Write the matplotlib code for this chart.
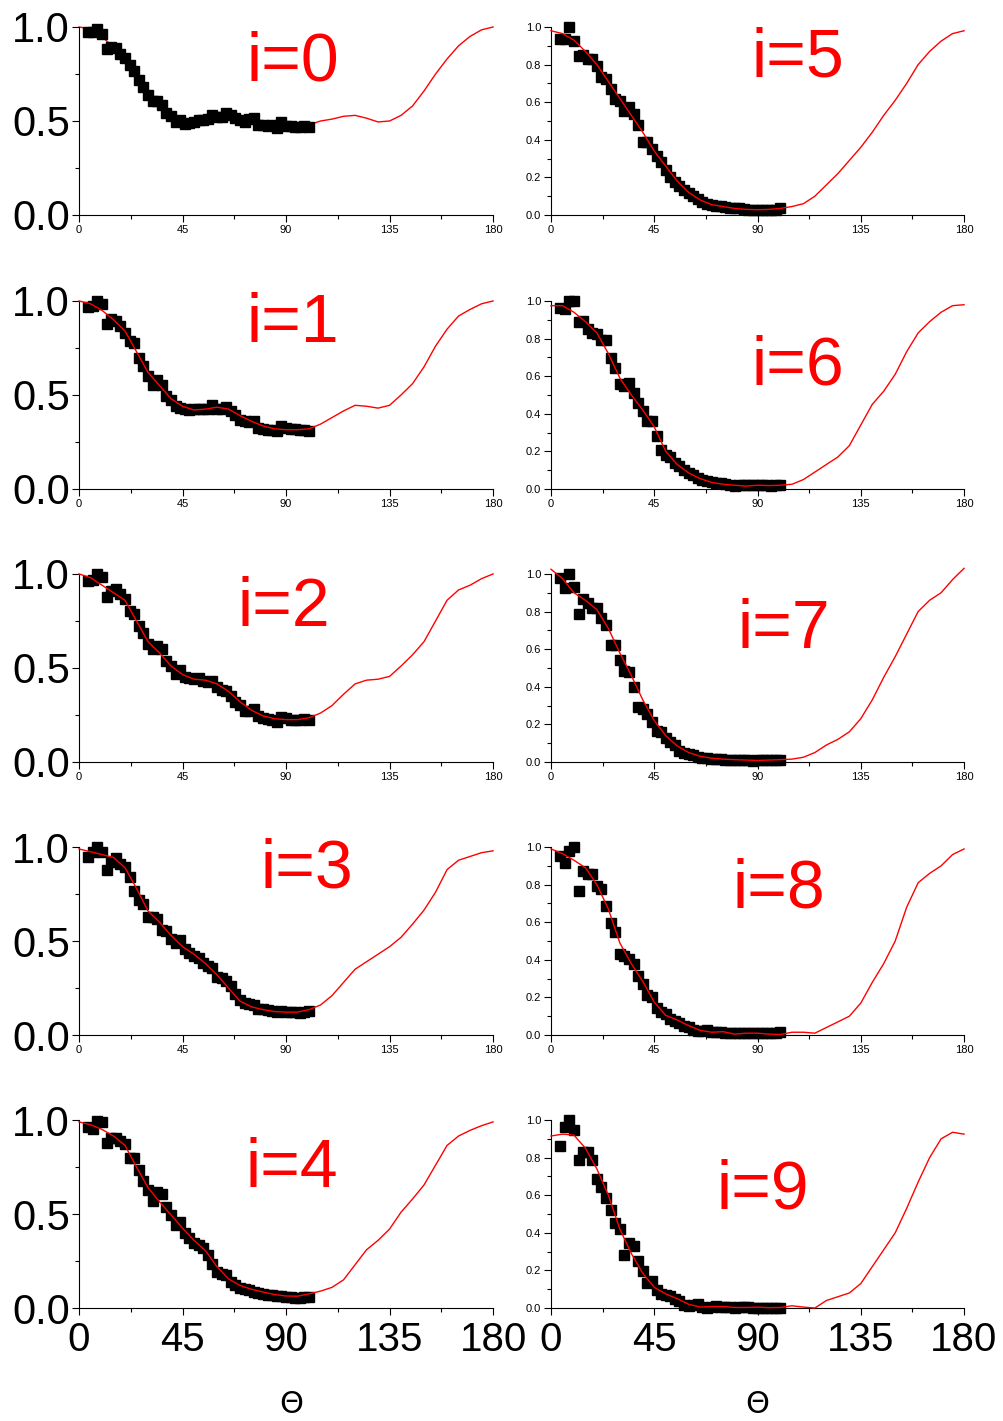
import matplotlib
matplotlib.use("Agg")
import matplotlib.pyplot as plt
from matplotlib.ticker import MultipleLocator, FormatStrFormatter

plt.rcParams['font.family'] = ['Liberation Sans', 'DejaVu Sans']

# measured angles (deg) and fitted-curve angles (deg)
theta_pts = [4, 6, 8, 10, 12, 14, 16, 18, 20, 22, 24, 26, 28, 30, 32, 34, 36,
             38, 40, 42, 44, 46, 48, 50, 52, 54, 56, 58, 60, 62, 64, 66, 68,
             70, 72, 74, 76, 78, 80, 82, 84, 86, 88, 90, 92, 94, 96, 98, 100]
theta_fit = [0, 5, 10, 15, 20, 25, 30, 35, 40, 45, 50, 55, 60, 65, 70, 75, 80,
             85, 90, 95, 100, 105, 110, 115, 120, 125, 130, 135, 140, 145, 150,
             155, 160, 165, 170, 175, 180]

# measured points, one list per i
exp_0 = [0.974, 0.974, 0.991, 0.965, 0.882, 0.894, 0.886, 0.859, 0.833, 0.798,
         0.768, 0.718, 0.680, 0.639, 0.604, 0.609, 0.586, 0.542, 0.525, 0.493,
         0.504, 0.486, 0.489, 0.493, 0.504, 0.504, 0.511, 0.533, 0.521, 0.521,
         0.542, 0.533, 0.516, 0.504, 0.493, 0.511, 0.516, 0.481, 0.481, 0.475,
         0.481, 0.463, 0.493, 0.475, 0.475, 0.468, 0.468, 0.475, 0.468]
exp_1 = [0.970, 0.973, 1.000, 0.982, 0.879, 0.902, 0.893, 0.867, 0.831, 0.786,
         0.778, 0.698, 0.653, 0.603, 0.555, 0.582, 0.555, 0.493, 0.475, 0.440,
         0.431, 0.425, 0.422, 0.425, 0.427, 0.425, 0.425, 0.448, 0.425, 0.425,
         0.436, 0.413, 0.395, 0.368, 0.359, 0.354, 0.359, 0.324, 0.319, 0.315,
         0.315, 0.306, 0.333, 0.324, 0.319, 0.319, 0.315, 0.315, 0.306]
exp_2 = [0.964, 0.968, 1.000, 0.982, 0.875, 0.911, 0.920, 0.893, 0.866, 0.804,
         0.786, 0.724, 0.688, 0.626, 0.599, 0.617, 0.599, 0.537, 0.510, 0.469,
         0.487, 0.451, 0.444, 0.439, 0.447, 0.433, 0.426, 0.430, 0.397, 0.385,
         0.380, 0.349, 0.319, 0.305, 0.269, 0.273, 0.283, 0.242, 0.234, 0.230,
         0.225, 0.212, 0.237, 0.234, 0.225, 0.223, 0.225, 0.228, 0.225]
exp_3 = [0.947, 0.973, 1.000, 0.973, 0.879, 0.920, 0.943, 0.911, 0.893, 0.840,
         0.768, 0.718, 0.697, 0.626, 0.626, 0.617, 0.558, 0.551, 0.510, 0.492,
         0.504, 0.456, 0.439, 0.421, 0.412, 0.385, 0.367, 0.358, 0.308, 0.305,
         0.287, 0.260, 0.219, 0.189, 0.171, 0.166, 0.162, 0.141, 0.141, 0.135,
         0.127, 0.123, 0.127, 0.123, 0.121, 0.121, 0.119, 0.123, 0.127]
exp_4 = [0.964, 0.952, 0.995, 0.991, 0.876, 0.902, 0.902, 0.888, 0.870, 0.796,
         0.796, 0.734, 0.675, 0.627, 0.568, 0.618, 0.604, 0.538, 0.494, 0.440,
         0.455, 0.401, 0.373, 0.348, 0.334, 0.320, 0.281, 0.236, 0.192, 0.183,
         0.174, 0.139, 0.121, 0.107, 0.103, 0.094, 0.085, 0.082, 0.076, 0.071,
         0.067, 0.064, 0.064, 0.059, 0.059, 0.055, 0.053, 0.059, 0.059]
exp_5 = [0.938, 0.938, 1.000, 0.926, 0.846, 0.850, 0.832, 0.832, 0.793, 0.736,
         0.722, 0.669, 0.616, 0.607, 0.554, 0.572, 0.536, 0.478, 0.386, 0.386,
         0.350, 0.315, 0.280, 0.241, 0.200, 0.173, 0.152, 0.135, 0.117, 0.103,
         0.085, 0.067, 0.058, 0.053, 0.050, 0.050, 0.041, 0.035, 0.035, 0.035,
         0.032, 0.028, 0.028, 0.028, 0.027, 0.028, 0.027, 0.028, 0.035]
exp_6 = [0.964, 0.959, 1.000, 1.000, 0.890, 0.893, 0.852, 0.831, 0.822, 0.795,
         0.792, 0.698, 0.644, 0.560, 0.546, 0.564, 0.511, 0.457, 0.413, 0.359,
         0.359, 0.283, 0.208, 0.181, 0.169, 0.137, 0.123, 0.101, 0.087, 0.075,
         0.057, 0.048, 0.043, 0.039, 0.034, 0.030, 0.025, 0.021, 0.016, 0.020,
         0.020, 0.021, 0.021, 0.021, 0.021, 0.020, 0.016, 0.020, 0.021]
exp_7 = [0.977, 0.927, 0.998, 0.933, 0.785, 0.867, 0.844, 0.817, 0.817, 0.764,
         0.729, 0.622, 0.622, 0.543, 0.484, 0.480, 0.401, 0.294, 0.280, 0.255,
         0.215, 0.167, 0.161, 0.129, 0.108, 0.090, 0.060, 0.050, 0.043, 0.037,
         0.028, 0.023, 0.020, 0.018, 0.015, 0.014, 0.012, 0.010, 0.010, 0.008,
         0.010, 0.008, 0.007, 0.008, 0.010, 0.008, 0.010, 0.009, 0.012]
exp_8 = [0.952, 0.913, 0.979, 1.000, 0.766, 0.873, 0.855, 0.855, 0.793, 0.779,
         0.687, 0.598, 0.549, 0.430, 0.421, 0.404, 0.377, 0.315, 0.271, 0.212,
         0.200, 0.142, 0.120, 0.112, 0.088, 0.076, 0.064, 0.050, 0.041, 0.028,
         0.023, 0.023, 0.027, 0.014, 0.014, 0.014, 0.011, 0.011, 0.009, 0.011,
         0.011, 0.011, 0.011, 0.011, 0.009, 0.011, 0.009, 0.011, 0.018]
exp_9 = [0.860, 0.961, 1.000, 0.949, 0.788, 0.828, 0.828, 0.788, 0.687, 0.642,
         0.584, 0.524, 0.453, 0.418, 0.280, 0.347, 0.329, 0.248, 0.195, 0.133,
         0.142, 0.097, 0.076, 0.071, 0.064, 0.050, 0.035, 0.018, 0.011, 0.014,
         0.023, 0.005, 0.000, 0.005, 0.011, 0.004, 0.005, 0.004, 0.002, 0.005,
         0.005, 0.004, 0.002, 0.000, 0.002, 0.002, 0.002, 0.002, 0.002]

# fitted curves over 0..180 deg
fit_0 = [1.00, 0.99, 0.95, 0.89, 0.83, 0.74, 0.65, 0.59, 0.53, 0.50, 0.49,
         0.50, 0.52, 0.53, 0.51, 0.50, 0.48, 0.47, 0.47, 0.47, 0.48,
         0.50, 0.51, 0.525, 0.53, 0.515, 0.495, 0.50, 0.53, 0.58, 0.66,
         0.75, 0.83, 0.90, 0.95, 0.985, 1.00]
fit_1 = [1.00, 0.985, 0.95, 0.90, 0.84, 0.73, 0.62, 0.55, 0.48, 0.44, 0.42,
         0.425, 0.435, 0.425, 0.39, 0.36, 0.335, 0.32, 0.315, 0.315, 0.32,
         0.345, 0.38, 0.415, 0.445, 0.44, 0.43, 0.445, 0.50, 0.56, 0.65,
         0.76, 0.85, 0.92, 0.955, 0.985, 1.00]
fit_2 = [1.00, 0.98, 0.94, 0.90, 0.86, 0.75, 0.64, 0.58, 0.51, 0.465, 0.44,
         0.435, 0.415, 0.375, 0.32, 0.275, 0.245, 0.23, 0.225, 0.225, 0.235,
         0.26, 0.30, 0.36, 0.415, 0.435, 0.44, 0.455, 0.51, 0.57, 0.64,
         0.75, 0.86, 0.915, 0.94, 0.975, 1.00]
fit_3 = [0.99, 0.975, 0.96, 0.945, 0.89, 0.78, 0.66, 0.60, 0.53, 0.47, 0.43,
         0.38, 0.32, 0.25, 0.18, 0.15, 0.135, 0.125, 0.122, 0.122, 0.135,
         0.16, 0.21, 0.28, 0.35, 0.39, 0.43, 0.47, 0.52, 0.59, 0.665,
         0.76, 0.88, 0.93, 0.95, 0.97, 0.98]
fit_4 = [0.99, 0.975, 0.95, 0.915, 0.865, 0.75, 0.64, 0.565, 0.495, 0.425, 0.36,
         0.305, 0.22, 0.155, 0.12, 0.10, 0.085, 0.072, 0.064, 0.063, 0.075,
         0.09, 0.11, 0.15, 0.23, 0.31, 0.36, 0.42, 0.51, 0.58, 0.655,
         0.76, 0.865, 0.915, 0.945, 0.97, 0.99]
fit_5 = [0.98, 0.965, 0.93, 0.87, 0.80, 0.71, 0.62, 0.53, 0.44, 0.34, 0.26,
         0.18, 0.12, 0.08, 0.055, 0.045, 0.035, 0.03, 0.028, 0.03, 0.035,
         0.045, 0.06, 0.10, 0.16, 0.22, 0.29, 0.36, 0.44, 0.53, 0.61,
         0.70, 0.80, 0.87, 0.925, 0.965, 0.98]
fit_6 = [0.975, 0.975, 0.94, 0.89, 0.83, 0.72, 0.59, 0.50, 0.42, 0.33, 0.20,
         0.13, 0.085, 0.055, 0.035, 0.025, 0.02, 0.015, 0.02, 0.018, 0.02,
         0.025, 0.05, 0.09, 0.13, 0.17, 0.23, 0.34, 0.45, 0.52, 0.61,
         0.73, 0.83, 0.89, 0.94, 0.975, 0.98]
fit_7 = [1.025, 0.975, 0.90, 0.86, 0.81, 0.71, 0.58, 0.46, 0.33, 0.22, 0.14,
         0.085, 0.05, 0.03, 0.02, 0.015, 0.012, 0.01, 0.008, 0.01, 0.012,
         0.015, 0.025, 0.05, 0.09, 0.12, 0.16, 0.23, 0.33, 0.45, 0.56,
         0.68, 0.80, 0.86, 0.90, 0.97, 1.03]
fit_8 = [0.99, 0.965, 0.93, 0.89, 0.80, 0.67, 0.49, 0.38, 0.285, 0.175, 0.105,
         0.08, 0.05, 0.025, 0.015, 0.018, 0.005, 0.01, 0.01, 0.005, 0.003,
         0.015, 0.015, 0.01, 0.04, 0.07, 0.10, 0.17, 0.28, 0.38, 0.50,
         0.68, 0.81, 0.86, 0.90, 0.96, 0.99]
fit_9 = [0.915, 0.925, 0.92, 0.85, 0.74, 0.60, 0.42, 0.29, 0.185, 0.11, 0.075,
         0.05, 0.02, 0.005, 0.008, 0.008, 0.003, 0.003, 0.005, 0.002, 0.003,
         0.012, 0.005, 0.0, 0.04, 0.06, 0.08, 0.13, 0.22, 0.31, 0.40,
         0.53, 0.67, 0.80, 0.90, 0.935, 0.925]

labels = ['i=0', 'i=1', 'i=2', 'i=3', 'i=4', 'i=5', 'i=6', 'i=7', 'i=8', 'i=9']
exps = [exp_0, exp_1, exp_2, exp_3, exp_4, exp_5, exp_6, exp_7, exp_8, exp_9]
fits = [fit_0, fit_1, fit_2, fit_3, fit_4, fit_5, fit_6, fit_7, fit_8, fit_9]

# where each "i=" label sits (data coords, left/baseline)
label_pos = [(73.0, 0.718), (73.0, 0.783), (68.7, 0.723), (78.7, 0.786),
             (72.5, 0.642), (87.4, 0.739), (87.4, 0.557), (81.3, 0.605),
             (79.0, 0.679), (72.2, 0.527)]

fig = plt.figure(figsize=(10.04, 14.21), dpi=100)
col_left = [0.0787, 0.5488]
col_width = [0.4124, 0.4114]
row_bottom = [0.8487, 0.6559, 0.4638, 0.2716, 0.0795]
row_height = 0.1323

for i in range(10):
    col, row = i // 5, i % 5
    ax = fig.add_axes([col_left[col], row_bottom[row], col_width[col], row_height])

    # i=0 has the fit hidden under the points, the rest draw it on top
    line_z = 1 if i == 0 else 3
    ax.plot(theta_fit, fits[i], color='red', lw=1.0, zorder=line_z, clip_on=False)
    ax.plot(theta_pts, exps[i], ls='none', marker='s', ms=6.8, color='black',
            zorder=2, clip_on=False)

    ax.text(label_pos[i][0], label_pos[i][1], labels[i], color='red',
            fontsize=49, ha='left', va='baseline')

    ax.set_xlim(0, 180)
    ax.set_ylim(0, 1)
    for side in ['top', 'right']:
        ax.spines[side].set_visible(False)
    for side in ['left', 'bottom']:
        ax.spines[side].set_linewidth(0.8)

    ax.xaxis.set_major_locator(MultipleLocator(45))
    ax.xaxis.set_minor_locator(MultipleLocator(22.5))
    ax.yaxis.set_major_formatter(FormatStrFormatter('%.1f'))
    if col == 0:
        ax.yaxis.set_major_locator(MultipleLocator(0.5))
        ax.yaxis.set_minor_locator(MultipleLocator(0.25))
        ax.tick_params(axis='y', labelsize=30, pad=1.5)
    else:
        ax.yaxis.set_major_locator(MultipleLocator(0.2))
        ax.yaxis.set_minor_locator(MultipleLocator(0.1))
        ax.tick_params(axis='y', labelsize=8, pad=2)
    if row == 4:
        ax.tick_params(axis='x', labelsize=29, pad=4)
    else:
        ax.tick_params(axis='x', labelsize=8, pad=2)
    ax.tick_params(which='major', direction='out', length=5, width=0.8)
    ax.tick_params(which='minor', direction='out', length=3, width=0.8)

fig.text(0.2905, 0.0115, 'Θ', fontsize=22, ha='center', va='center',
         family=['DejaVu Sans'])
fig.text(0.754, 0.0115, 'Θ', fontsize=22, ha='center', va='center',
         family=['DejaVu Sans'])

fig.savefig('out.png', dpi=100)
